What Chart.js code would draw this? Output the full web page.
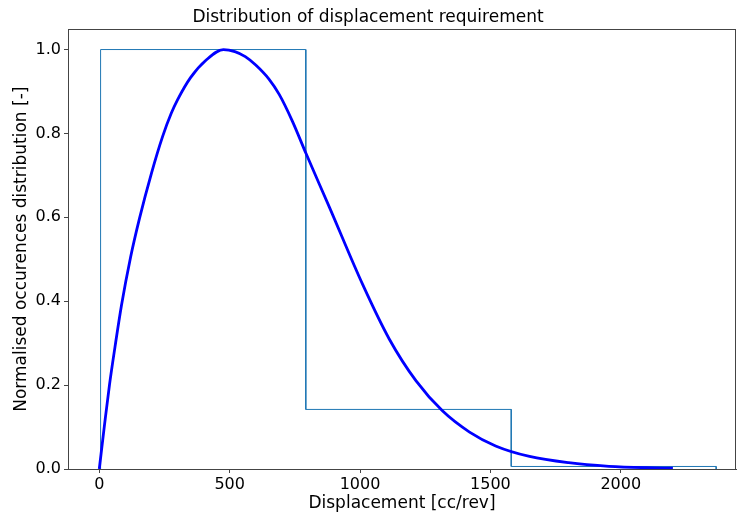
<!DOCTYPE html>
<html>
<head>
<meta charset="utf-8">
<script src="https://cdn.jsdelivr.net/npm/chart.js@4"></script>
<style>
  html, body { margin: 0; padding: 0; background: #fff; }
  #wrap { width: 737px; height: 514px; }
</style>
</head>
<body>
<div id="wrap"><canvas id="chart" width="737" height="514"></canvas></div>
<script>
// ── Data ──────────────────────────────────────────────────────────────────
const binEdges  = [5, 792, 1580, 2366];
const binValues = [1.0, 0.142, 0.006];

const curveX = [0, 20, 39, 60, 85, 120, 154, 200, 243, 276, 300, 350, 410, 476, 520, 560, 600, 650, 690, 740, 793, 882, 1010, 1112, 1215, 1317, 1420, 1520, 1650, 1800, 1955, 2100, 2200];
const curveY = [0, 0.105, 0.2, 0.29, 0.39, 0.505, 0.597, 0.705, 0.793, 0.848, 0.880, 0.933, 0.975, 1.0, 0.995, 0.983, 0.963, 0.93, 0.893, 0.83, 0.752, 0.625, 0.44, 0.31, 0.21, 0.138, 0.088, 0.055, 0.03, 0.015, 0.0065, 0.003, 0.002];

const xTicks = [0, 500, 1000, 1500, 2000];
const yTicks = [0, 0.2, 0.4, 0.6, 0.8, 1.0];

// ── Build datasets ────────────────────────────────────────────────────────
const histPoints = [{ x: binEdges[0], y: 0 }];
binValues.forEach((v, i) => {
    histPoints.push({ x: binEdges[i], y: v });
    histPoints.push({ x: binEdges[i + 1], y: v });
});
histPoints.push({ x: binEdges[binEdges.length - 1], y: 0 });

const curvePoints = curveX.map((x, i) => ({ x, y: curveY[i] }));

const font = "'DejaVu Sans', sans-serif";
const spine = '#444';

// matplotlib draws all four spines
const framePlugin = {
    id: 'frame',
    afterDraw(chart) {
        const { ctx, chartArea: a } = chart;
        ctx.save();
        ctx.strokeStyle = spine;
        ctx.lineWidth = 1;
        ctx.strokeRect(Math.round(a.left) + 0.5, Math.round(a.top) + 0.5,
            Math.round(a.right - a.left) - 1, Math.round(a.bottom - a.top));
        ctx.restore();
    }
};

new Chart(document.getElementById('chart'), {
    type: 'scatter',
    data: {
        datasets: [
            { label: 'hist', data: histPoints, showLine: true, borderColor: '#1f77b4', borderWidth: 1, pointRadius: 0, fill: false, order: 2 },
            { label: 'fit', data: curvePoints, showLine: true, borderColor: '#0000ff', borderWidth: 2.8, pointRadius: 0, cubicInterpolationMode: 'monotone', fill: false, order: 1 },
        ]
    },
    options: {
        responsive: false, animation: false,
        layout: { padding: { left: 0, right: 1, top: 0, bottom: 0 } },
        plugins: {
            legend: { display: false },
            tooltip: { enabled: false },
            title: {
                display: true, text: 'Distribution of displacement requirement',
                color: '#000', font: { family: font, size: 17, weight: 'normal', lineHeight: 1.2 },
                padding: { top: 7, bottom: 2 }
            }
        },
        scales: {
            x: {
                type: 'linear', min: -120, max: 2442,
                afterBuildTicks: s => { s.ticks = xTicks.map(v => ({ value: v })); },
                afterFit: s => { s.height = 45; },
                border: { color: spine, width: 1 },
                grid: { display: true, drawOnChartArea: false, drawTicks: true, tickLength: 4, color: spine },
                ticks: { color: '#000', font: { family: font, size: 16 }, padding: 2, maxRotation: 0, callback: v => String(v) },
                title: { display: true, text: 'Displacement [cc/rev]', color: '#000', font: { family: font, size: 17 }, padding: { top: 2, bottom: 0 } }
            },
            y: {
                type: 'linear', min: 0, max: 1.048,
                afterBuildTicks: s => { s.ticks = yTicks.map(v => ({ value: v })); },
                afterFit: s => { s.width = 68; },
                border: { color: spine, width: 1 },
                grid: { display: true, drawOnChartArea: false, drawTicks: true, tickLength: 4, color: spine },
                ticks: { color: '#000', font: { family: font, size: 16 }, padding: 3, callback: v => Number(v).toFixed(1) },
                title: { display: true, text: 'Normalised occurences distribution [-]', color: '#000', font: { family: font, size: 17 }, padding: { top: 11, bottom: 0 } }
            }
        }
    },
    plugins: [framePlugin]
});
</script>
</body>
</html>
